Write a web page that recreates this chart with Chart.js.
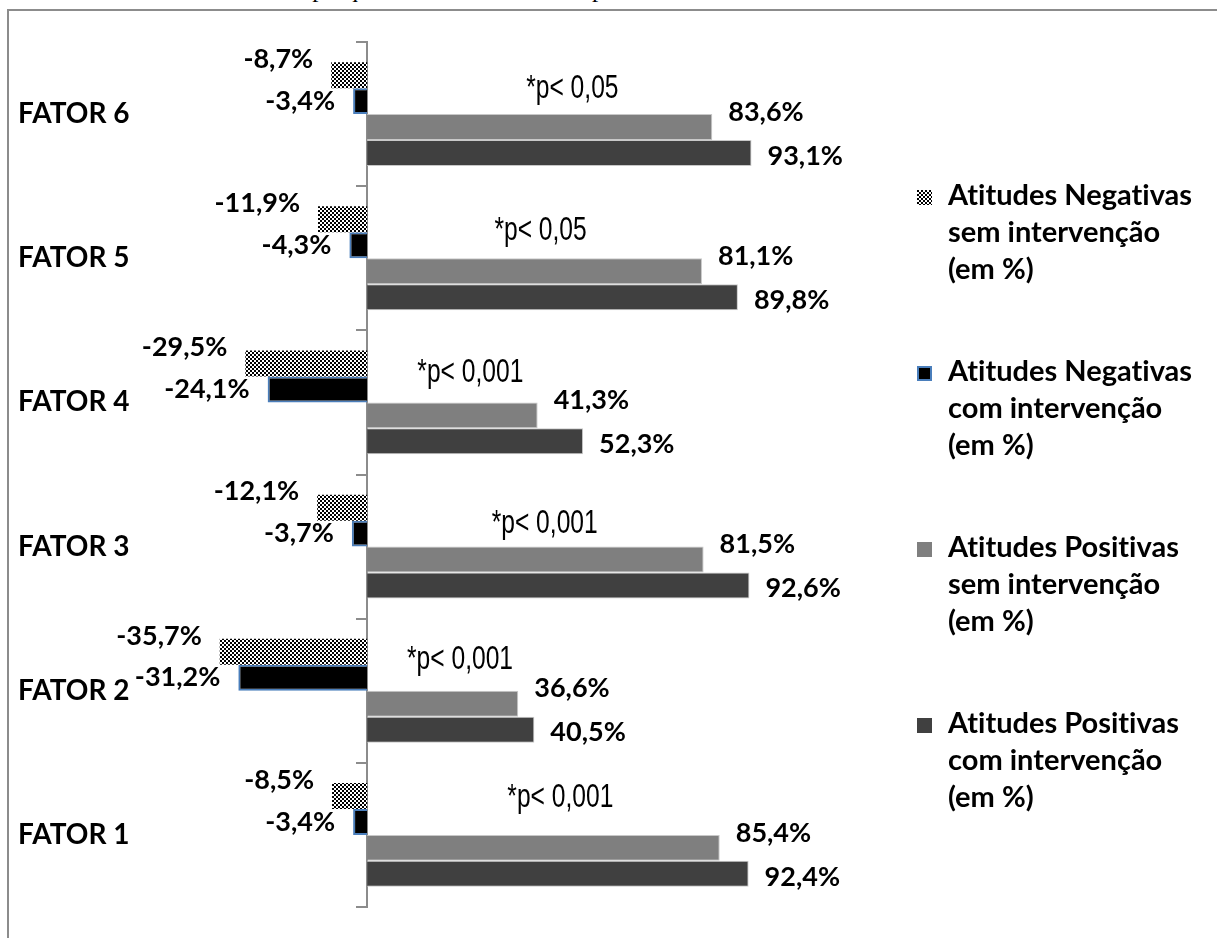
<!DOCTYPE html>
<html lang="pt">
<head>
<meta charset="utf-8">
<title>Atitudes por fator</title>
<script src="https://cdn.jsdelivr.net/npm/chart.js@4.4.1/dist/chart.umd.min.js"></script>
<style>
  html, body { margin: 0; padding: 0; background: #fff; }
  body { width: 1217px; height: 938px; position: relative; overflow: hidden; }
  #caption { position: absolute; left: 163px; top: -23px; font: 25px 'Liberation Serif', serif; line-height: 24px; white-space: nowrap; color: #000; }
  #frame { position: absolute; left: 7px; top: 9px; width: 1400px; height: 1100px; border-top: 2px solid #8c8c8c; border-left: 2px solid #8c8c8c; }
  #chart { position: absolute; left: 0; top: 0; }
  #legend { position: absolute; left: 917px; top: 0; }
  .item { position: absolute; left: 0; white-space: nowrap; }
  .item canvas { position: absolute; left: 0; top: 15px; }
  .item div { margin-left: 31px; font: bold 29px Lato, sans-serif; line-height: 37px; color: #000;
              font-variant-ligatures: none; font-feature-settings: "liga" 0, "clig" 0; }
</style>
</head>
<body>
<div id="caption">Dados de uma pesquisa realizada em acompanhamento de 2 anos do CNS.</div>
<div id="frame"></div>
<canvas id="chart" width="1217" height="938"></canvas>
<div id="legend"></div>
<script>
const categories = ['FATOR 6', 'FATOR 5', 'FATOR 4', 'FATOR 3', 'FATOR 2', 'FATOR 1'];
const negSem = [-8.7, -11.9, -29.5, -12.1, -35.7, -8.5];
const negCom = [-3.4, -4.3, -24.1, -3.7, -31.2, -3.4];
const posSem = [83.6, 81.1, 41.3, 81.5, 36.6, 85.4];
const posCom = [93.1, 89.8, 52.3, 92.6, 40.5, 92.4];
const pNotes = ['*p< 0,05', '*p< 0,05', '*p< 0,001', '*p< 0,001', '*p< 0,001', '*p< 0,001'];

const legendLines = [
  ['Atitudes Negativas', 'sem intervenção', '(em %)'],
  ['Atitudes Negativas', 'com intervenção', '(em %)'],
  ['Atitudes Positivas', 'sem intervenção', '(em %)'],
  ['Atitudes Positivas', 'com intervenção', '(em %)']
];

// where each p-note sits: x in axis units, lift in px above the category centre
const pNoteAt = [49.7, 42, 25, 43, 22.5, 46.8];
const pNoteLift = [25, 27, 29, 23, 31, 37];
// vertical nudge of each series' value label
const labelLift = [-16, 0, -15, 3];

const canvas = document.getElementById('chart');
const ctx = canvas.getContext('2d');

function checkerTile() {
  const c = document.createElement('canvas');
  c.width = c.height = 4;
  const g = c.getContext('2d');
  g.fillStyle = '#fff';
  g.fillRect(0, 0, 4, 4);
  g.fillStyle = '#000';
  g.fillRect(0, 0, 2, 2);
  g.fillRect(2, 2, 2, 2);
  return c;
}
const tile = checkerTile();

function fmt(v) {
  return v.toFixed(1).replace('.', ',') + '%';
}

const valueLabels = {
  id: 'valueLabels',
  afterDatasetsDraw(chart) {
    const c = chart.ctx;
    c.save();
    c.font = 'bold 27px Lato, sans-serif';
    c.fillStyle = '#000';
    c.textBaseline = 'middle';
    chart.data.datasets.forEach((ds, i) => {
      chart.getDatasetMeta(i).data.forEach((bar, j) => {
        const v = ds.data[j];
        if (v >= 0) {
          c.textAlign = 'left';
          c.fillText(fmt(v), bar.x + 16, bar.y + labelLift[i]);
        } else {
          c.textAlign = 'right';
          c.fillText(fmt(v), bar.x - 18, bar.y + labelLift[i]);
        }
      });
    });
    c.restore();
  }
};

const pNoteLabels = {
  id: 'pNoteLabels',
  afterDatasetsDraw(chart) {
    const c = chart.ctx;
    const xs = chart.scales.x, ys = chart.scales.y;
    c.save();
    c.font = '30px "Liberation Sans", Arial, sans-serif';
    c.fillStyle = '#000';
    c.textAlign = 'center';
    c.textBaseline = 'middle';
    pNotes.forEach((txt, j) => {
      c.save();
      c.translate(xs.getPixelForValue(pNoteAt[j]), ys.getPixelForValue(j) - pNoteLift[j]);
      c.scale(0.82, 1.08);
      c.fillText(txt, 0, 0);
      c.restore();
    });
    c.restore();
  }
};

const chart = new Chart(ctx, {
  type: 'bar',
  data: {
    labels: categories,
    datasets: [
      { label: legendLines[0].join(' '), data: negSem, backgroundColor: ctx.createPattern(tile, 'repeat'), borderWidth: 0 },
      { label: legendLines[1].join(' '), data: negCom, backgroundColor: '#000', borderColor: '#4a7ebb', borderWidth: 2 },
      { label: legendLines[2].join(' '), data: posSem, backgroundColor: '#7f7f7f', borderColor: '#c8c8c8', borderWidth: 1 },
      { label: legendLines[3].join(' '), data: posCom, backgroundColor: '#404040', borderColor: '#c8c8c8', borderWidth: 1 }
    ]
  },
  options: {
    indexAxis: 'y',
    responsive: false,
    animation: false,
    datasets: { bar: { categoryPercentage: 0.72, barPercentage: 1 } },
    layout: { padding: { left: 18, top: 42, bottom: 31, right: 437 } },
    scales: {
      x: { min: -40, max: 100, display: false },
      y: {
        position: { x: 0 },
        ticks: { display: false },
        grid: { drawOnChartArea: false, tickLength: 10, color: '#8c8c8c', lineWidth: 2 },
        border: { color: '#8c8c8c', width: 2 }
      },
      cat: {
        type: 'category',
        axis: 'y',
        position: 'left',
        offset: true,
        grid: { display: false },
        border: { display: false },
        ticks: { crossAlign: 'far', color: '#000', font: { family: 'Lato', weight: 'bold', size: 28 } },
        afterFit(scale) { scale.width = 184; }
      }
    },
    plugins: {
      legend: { display: false },
      tooltip: { enabled: false }
    }
  },
  plugins: [valueLabels, pNoteLabels]
});

// legend on the right, one block of wrapped lines per series
const legendBox = document.getElementById('legend');
const items = Chart.defaults.plugins.legend.labels.generateLabels(chart);
items.forEach((item, k) => {
  const el = document.createElement('div');
  el.className = 'item';
  el.style.top = (175 + 176 * k) + 'px';
  const sw = document.createElement('canvas');
  sw.width = sw.height = 15;
  const g = sw.getContext('2d');
  g.fillStyle = item.fillStyle instanceof CanvasPattern ? g.createPattern(tile, 'repeat') : item.fillStyle;
  g.fillRect(0, 0, 15, 15);
  if (item.lineWidth > 1) {
    g.strokeStyle = item.strokeStyle;
    g.lineWidth = 2;
    g.strokeRect(1, 1, 13, 13);
  }
  el.appendChild(sw);
  legendLines[item.datasetIndex].forEach(line => {
    const t = document.createElement('div');
    t.textContent = line;
    el.appendChild(t);
  });
  legendBox.appendChild(el);
});
</script>
</body>
</html>
